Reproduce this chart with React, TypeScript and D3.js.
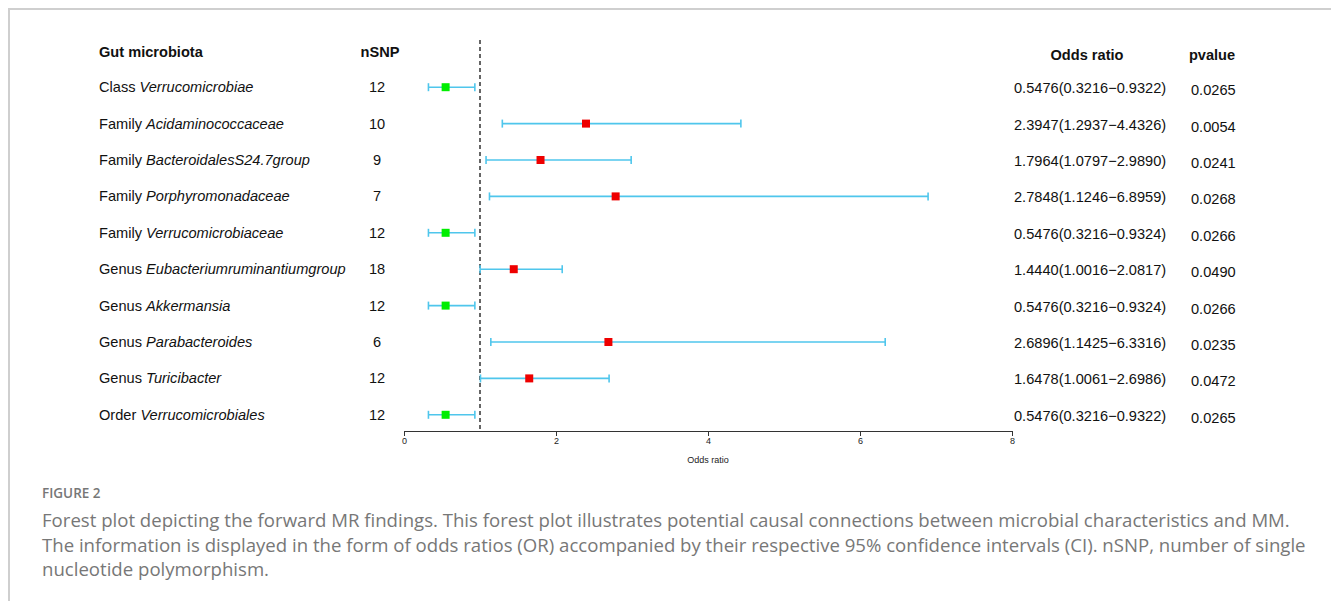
import React, { useEffect, useRef } from "react";
import * as d3 from "d3";

// table rows, top to bottom
const ranks = ["Class", "Family", "Family", "Family", "Family", "Genus", "Genus", "Genus", "Genus", "Order"];
const taxa = [
  "Verrucomicrobiae",
  "Acidaminococcaceae",
  "BacteroidalesS24.7group",
  "Porphyromonadaceae",
  "Verrucomicrobiaceae",
  "Eubacteriumruminantiumgroup",
  "Akkermansia",
  "Parabacteroides",
  "Turicibacter",
  "Verrucomicrobiales",
];
const nsnp = [12, 10, 9, 7, 12, 18, 12, 6, 12, 12];
const or = [0.5476, 2.3947, 1.7964, 2.7848, 0.5476, 1.444, 0.5476, 2.6896, 1.6478, 0.5476];
const lower = [0.3216, 1.2937, 1.0797, 1.1246, 0.3216, 1.0016, 0.3216, 1.1425, 1.0061, 0.3216];
const upper = [0.9322, 4.4326, 2.989, 6.8959, 0.9324, 2.0817, 0.9324, 6.3316, 2.6986, 0.9322];
const pvals = ["0.0265", "0.0054", "0.0241", "0.0268", "0.0266", "0.0490", "0.0266", "0.0235", "0.0472", "0.0265"];
const xTicks = [0, 2, 4, 6, 8];

const captionLines = [
  "Forest plot depicting the forward MR findings. This forest plot illustrates potential causal connections between microbial characteristics and MM.",
  "The information is displayed in the form of odds ratios (OR) accompanied by their respective 95% confidence intervals (CI). nSNP, number of single",
  "nucleotide polymorphism.",
];

const width = 1331;
const height = 601;
const font = "Liberation Sans, Arimo, Helvetica, sans-serif";
const capFont = "Open Sans, Lato, sans-serif";
const fs = 14.6;

export default function App() {
  const axisRef = useRef<SVGGElement>(null);

  const x = d3.scaleLinear().domain([0, 8]).range([404, 1012]);
  const y = d3
    .scaleBand<number>()
    .domain(d3.range(taxa.length))
    .range([69, 433])
    .paddingInner(0);
  const yc = (i: number) => (y(i) as number) + y.bandwidth() / 2;
  const axisY = 431;

  useEffect(() => {
    const g = d3.select(axisRef.current);
    g.selectAll("*").remove();
    g.call(d3.axisBottom(x).tickValues(xTicks).tickSize(5).tickSizeOuter(5));
    g.select(".domain").attr("stroke", "#333");
    g.selectAll(".tick line").attr("stroke", "#333");
    g.selectAll(".tick text")
      .attr("font-size", 9)
      .attr("font-family", font)
      .attr("fill", "#222")
      .attr("dy", "0.6em");
  }, []);

  const cap = 4;

  return (
    <svg
      width={width}
      height={height}
      style={{ position: "absolute", left: 0, top: 0, background: "#fff", fontFamily: font }}
    >
      {/* frame */}
      <path d={`M9,${height} V9 H${width}`} fill="none" stroke="#cfcfcf" strokeWidth={2} />

      {/* headers */}
      <g fontWeight="bold" fontSize={fs} fill="#111">
        <text x={99} y={57}>Gut microbiota</text>
        <text x={380} y={57} textAnchor="middle">nSNP</text>
        <text x={1087} y={60} textAnchor="middle">Odds ratio</text>
        <text x={1212} y={60} textAnchor="middle">pvalue</text>
      </g>

      {/* reference line at OR = 1 */}
      <line
        x1={x(1)}
        x2={x(1)}
        y1={40}
        y2={axisY}
        stroke="#333"
        strokeWidth={1.5}
        strokeDasharray="4,3"
      />

      {taxa.map((t, i) => {
        const cy = yc(i);
        const col = or[i] < 1 ? "#00ee00" : "#ee0000";
        return (
          <g key={t + i}>
            <text x={99} y={cy + 5} fontSize={fs} fill="#111">
              {ranks[i]} <tspan fontStyle="italic">{t}</tspan>
            </text>
            <text x={377} y={cy + 5} fontSize={fs} fill="#111" textAnchor="middle">
              {nsnp[i]}
            </text>
            <line x1={x(lower[i])} x2={x(upper[i])} y1={cy} y2={cy} stroke="#4fc6ec" strokeWidth={1.6} />
            <line x1={x(lower[i])} x2={x(lower[i])} y1={cy - cap} y2={cy + cap} stroke="#4fc6ec" strokeWidth={1.6} />
            <line x1={x(upper[i])} x2={x(upper[i])} y1={cy - cap} y2={cy + cap} stroke="#4fc6ec" strokeWidth={1.6} />
            <rect x={x(or[i]) - 4} y={cy - 4} width={8} height={8} fill={col} />
            <text x={1014} y={cy + 6} fontSize={fs} fill="#111">
              {`${or[i].toFixed(4)}(${lower[i].toFixed(4)}\u2212${upper[i].toFixed(4)})`}
            </text>
            <text x={1191} y={cy + 8} fontSize={fs} fill="#111">
              {pvals[i]}
            </text>
          </g>
        );
      })}

      <g ref={axisRef} transform={`translate(0,${axisY})`} />
      <text x={x(4)} y={463} fontSize={9} textAnchor="middle" fill="#222">
        Odds ratio
      </text>

      {/* caption */}
      <text x={42} y={498} fontFamily={capFont} fontSize={13.5} fontWeight={600} fill="#777">
        FIGURE 2
      </text>
      {captionLines.map((l, i) => (
        <text key={i} x={42} y={527 + i * 24.5} fontFamily={capFont} fontSize={18.6} fill="#777">
          {l}
        </text>
      ))}
    </svg>
  );
}
